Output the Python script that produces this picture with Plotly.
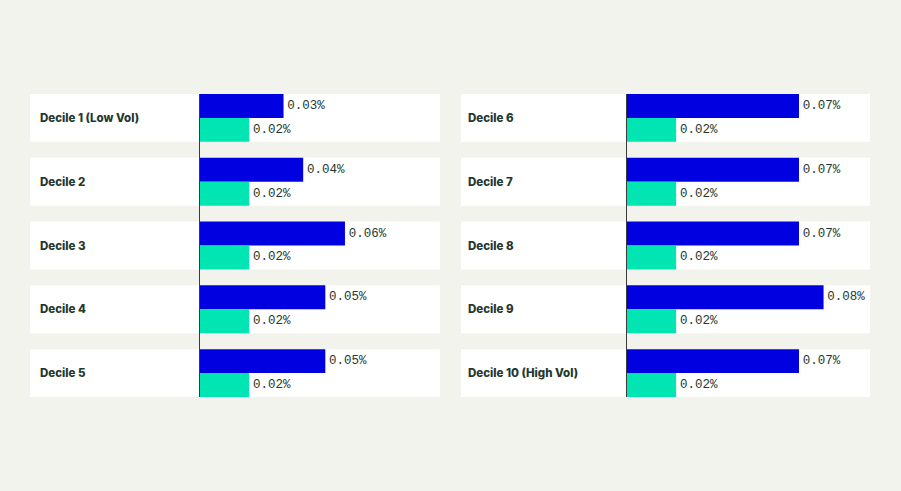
import plotly.graph_objects as go

# Data
left_labels = ["Decile 1 (Low Vol)", "Decile 2", "Decile 3", "Decile 4", "Decile 5"]
right_labels = ["Decile 6", "Decile 7", "Decile 8", "Decile 9", "Decile 10 (High Vol)"]
left_blue = [0.034, 0.042, 0.059, 0.051, 0.051]
left_green = [0.020, 0.020, 0.020, 0.020, 0.020]
right_blue = [0.070, 0.070, 0.070, 0.080, 0.070]
right_green = [0.020, 0.020, 0.020, 0.020, 0.020]

W, H = 901, 491
BG = "#f3f3ee"
BLUE = "#0000e1"
GREEN = "#00e5b1"
TXT = "#24382f"
PX_PER_UNIT = 2457.0

panels = [
    dict(labels=left_labels, blue=left_blue, green=left_green, xa="x", ya="y",
         strip=(30, 440), axis_px=200, label_px=38),
    dict(labels=right_labels, blue=right_blue, green=right_green, xa="x2", ya="y2",
         strip=(461, 870), axis_px=627, label_px=466),
]

fig = go.Figure()
shapes = []
annotations = []
for p in panels:
    idx = list(range(len(p["labels"])))
    for vals, col in ((p["blue"], BLUE), (p["green"], GREEN)):
        fig.add_trace(go.Bar(
            x=vals, y=idx, orientation="h", xaxis=p["xa"], yaxis=p["ya"],
            marker=dict(color=col, line=dict(width=0)),
            texttemplate="\u200a%{x:.2f}%", textposition="outside",
            textfont=dict(family="Liberation Mono, DejaVu Sans Mono, monospace", size=12.5, color=TXT),
            cliponaxis=False, showlegend=False, hoverinfo="skip",
        ))
    for i, lab in zip(idx, p["labels"]):
        shapes.append(dict(type="rect", xref="paper", yref=p["ya"],
                           x0=p["strip"][0] / W, x1=p["strip"][1] / W,
                           y0=i - 0.375, y1=i + 0.375,
                           fillcolor="white", line=dict(width=0), layer="below"))
        annotations.append(dict(text=lab, xref="paper", yref=p["ya"],
                                x=p["label_px"] / W, y=i, xanchor="left", yanchor="middle",
                                showarrow=False,
                                font=dict(family="Inter, Roboto, sans-serif", size=11.5,
                                          color=TXT, weight=800)))

def xr(dom):
    return [0, (dom[1] - dom[0]) * W / PX_PER_UNIT]

dom1 = [200 / W, 440 / W]
dom2 = [627 / W, 870 / W]
yax = dict(range=[4.375, -0.375], showline=True, linecolor="#3a3a3a", linewidth=1,
           showticklabels=False, showgrid=False, zeroline=False, ticks="")
xax = dict(showgrid=False, zeroline=False, showticklabels=False, showline=False, ticks="")

fig.update_layout(
    width=W, height=H,
    margin=dict(l=0, r=0, t=94, b=94),
    paper_bgcolor=BG, plot_bgcolor="rgba(0,0,0,0)",
    barmode="group", bargap=0.25, bargroupgap=0,
    xaxis=dict(domain=dom1, range=xr(dom1), anchor="y", **xax),
    xaxis2=dict(domain=dom2, range=xr(dom2), anchor="y2", **xax),
    yaxis=dict(anchor="x", **yax),
    yaxis2=dict(anchor="x2", **yax),
    shapes=shapes, annotations=annotations,
)

fig.write_html("out.html", config={"displayModeBar": False},
               post_script=("document.body.style.margin='0';"
                            "document.body.style.background='%s';"
                            "document.documentElement.style.background='%s';" % (BG, BG)))
